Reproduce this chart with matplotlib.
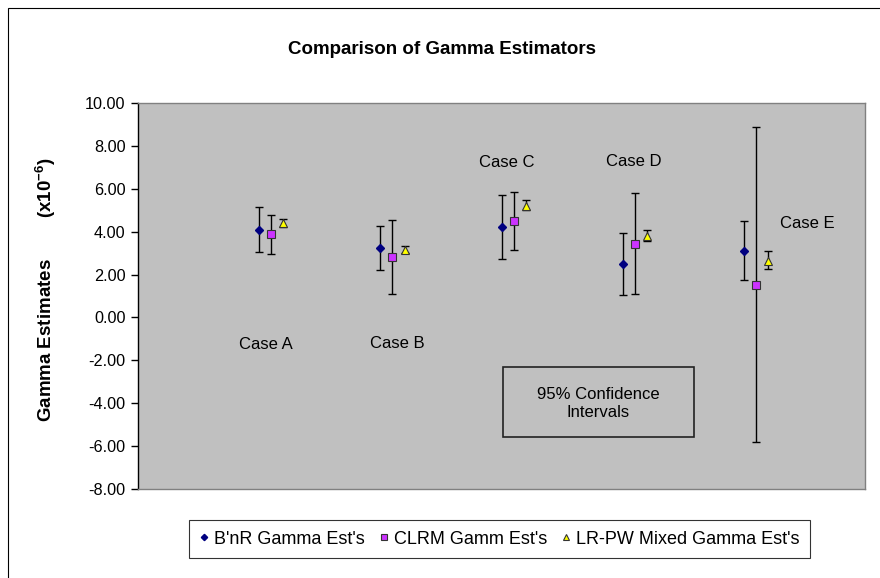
import matplotlib
matplotlib.use("Agg")
import matplotlib.pyplot as plt
from matplotlib.patches import Rectangle
from matplotlib.lines import Line2D
import numpy as np

plt.rcParams['font.family'] = ['Liberation Sans', 'DejaVu Sans']
plt.rcParams['mathtext.fontset'] = 'custom'
plt.rcParams['mathtext.rm'] = 'Liberation Sans'
plt.rcParams['mathtext.bf'] = 'Liberation Sans:bold'

cases = ["Case A", "Case B", "Case C", "Case D", "Case E"]
series = ["B'nR Gamma Est's", "CLRM Gamm Est's", "LR-PW Mixed Gamma Est's"]

bnr_est = [4.09, 3.23, 4.23, 2.49, 3.11]
bnr_lo = [3.03, 2.22, 2.74, 1.03, 1.76]
bnr_hi = [5.17, 4.28, 5.73, 3.95, 4.48]

clrm_est = [3.88, 2.82, 4.49, 3.43, 1.52]
clrm_lo = [2.96, 1.09, 3.14, 1.09, -5.79]
clrm_hi = [4.80, 4.55, 5.87, 5.79, 8.87]

lrpw_est = [4.39, 3.15, 5.19, 3.80, 2.65]
lrpw_lo = [4.23, 3.00, 5.00, 3.56, 2.26]
lrpw_hi = [4.57, 3.35, 5.48, 4.06, 3.08]

label_x = [0.956, 2.04, 2.945, 3.99, 5.42]
label_y = [-1.27, -1.23, 7.23, 7.26, 4.39]

yticks = [10, 8, 6, 4, 2, 0, -2, -4, -6, -8]

W, H = 880, 578
fig = plt.figure(figsize=(W / 100, H / 100), dpi=100)
fig.patch.set_facecolor('white')

ax = fig.add_axes([138 / W, 1 - 489 / H, (865 - 138) / W, (489 - 103) / H])
ax.set_facecolor('#C0C0C0')

xpos = np.arange(1, len(cases) + 1)
offsets = [-0.1, 0.0, 0.1]
styles = [
    dict(marker='D', ms=4, mfc='#000080', mec='#000080'),
    dict(marker='s', ms=5.5, mfc='#CC33FF', mec='#333333', mew=0.8),
    dict(marker='^', ms=5.5, mfc='#FFFF00', mec='#333333', mew=0.8),
]
data = [(bnr_est, bnr_lo, bnr_hi), (clrm_est, clrm_lo, clrm_hi), (lrpw_est, lrpw_lo, lrpw_hi)]
handles = []
for (est, lo, hi), off, st, name in zip(data, offsets, styles, series):
    est = np.array(est); lo = np.array(lo); hi = np.array(hi)
    yerr = np.vstack([est - lo, hi - est])
    ax.errorbar(xpos + off, est, yerr=yerr, fmt='none', ecolor='black',
                elinewidth=1.0, capsize=3, capthick=1.0, zorder=2)
    ax.plot(xpos + off, est, linestyle='none', zorder=3, **st)
    hst = dict(st)
    hst['ms'] = st['ms'] * 0.8
    handles.append(Line2D([], [], linestyle='none', label=name, **hst))

for txt, lx, ly in zip(cases, label_x, label_y):
    ax.text(lx, ly, txt, ha='center', va='center', fontsize=12, color='black')

ax.set_xlim(-0.1, 5.9)
ax.set_ylim(-8, 10)
ax.set_yticks(yticks)
ax.set_yticklabels([f"{v:.2f}" for v in yticks], fontsize=11.7)
ax.set_xticks([])
ax.tick_params(axis='y', direction='out', length=5, width=1, color='black', pad=4)
for s in ['top', 'right', 'bottom']:
    ax.spines[s].set_color('#808080')
    ax.spines[s].set_linewidth(1.0)
ax.spines['left'].set_color('black')
ax.spines['left'].set_linewidth(1.0)

# confidence interval box
ax.add_patch(Rectangle((0.502, 0.135), 0.263, 0.182, transform=ax.transAxes,
                       fill=False, edgecolor='#222222', lw=1.2, zorder=4))
ax.text(0.6335, 0.222, "95% Confidence\nIntervals", transform=ax.transAxes,
        ha='center', va='center', fontsize=12, linespacing=1.3)

fig.text(441.7 / W, 1 - 50 / H, "Comparison of Gamma Estimators", ha='center', va='center',
         fontsize=13.5, fontweight='bold')
fig.text(46 / W, 1 - 290 / H, r"Gamma Estimates        (x10$^{\mathbf{-6}}$)", rotation=90,
         ha='center', va='center', fontsize=13.5, fontweight='bold')

leg = fig.legend(handles=handles, loc='center', bbox_to_anchor=(499.5 / W, 1 - 539 / H),
                 ncol=3, frameon=True, fancybox=False, fontsize=13, handlelength=0.5,
                 handletextpad=0.3, columnspacing=0.8, borderpad=0.6, borderaxespad=0.0)
leg.get_frame().set_edgecolor('black')
leg.get_frame().set_linewidth(0.8)

# outer chart border
fig.patches.append(Rectangle((8 / W, -0.1), 2.0, 1 - 8 / H + 0.1, transform=fig.transFigure,
                             fill=False, edgecolor='black', lw=0.8))

fig.savefig('out.png', dpi=100)
